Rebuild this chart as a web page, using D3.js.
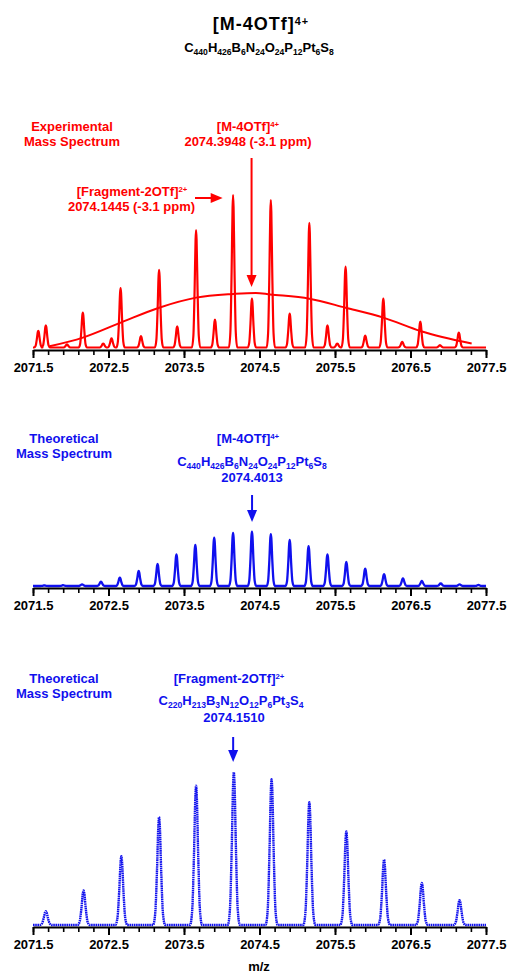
<!DOCTYPE html>
<html>
<head>
<meta charset="utf-8">
<script src="https://cdn.jsdelivr.net/npm/d3@7"></script>
<style>
  body { margin: 0; background: #fff; }
  svg { display: block; font-family: "Liberation Sans", Arial, sans-serif; font-weight: bold; }
</style>
</head>
<body>
<svg id="chart"></svg>
<script>
// ---- data ----
const tickLabels = ["2071.5", "2072.5", "2073.5", "2074.5", "2075.5", "2076.5", "2077.5"];

// experimental spectrum, peak centres (m/z) and relative heights
const expMz  = [2071.57, 2071.67, 2071.95, 2072.16, 2072.43, 2072.54, 2072.66, 2072.93, 2073.17, 2073.41,
                2073.66, 2073.91, 2074.15, 2074.40, 2074.65, 2074.90, 2075.16, 2075.40, 2075.53, 2075.64,
                2075.90, 2076.14, 2076.39, 2076.63, 2076.89, 2077.14];
const expInt = [11, 14.6, 2, 22.9, 2.6, 6, 39, 7.4, 51, 13.9,
                77, 18.3, 100, 32, 96.7, 22.2, 81.7, 14.6, 2.6, 53,
                7.8, 32, 3.7, 17, 1.5, 9.8];

// simulated envelope drawn over the experimental spectrum
const envMz  = [2071.72, 2072.16, 2072.67, 2073.17, 2073.66, 2074.15, 2074.45, 2074.64, 2075.16, 2075.64, 2076.14, 2076.64, 2077.31];
const envInt = [0.8, 6.5, 16.5, 26.1, 32.7, 35.1, 35.8, 34.8, 32, 26.1, 19.6, 10.7, 2.6];

// theoretical [M-4OTf]4+
const m4Mz  = [2071.65, 2071.90, 2072.15, 2072.40, 2072.65, 2072.90, 2073.15, 2073.40, 2073.65, 2073.90,
               2074.15, 2074.40, 2074.65, 2074.90, 2075.15, 2075.40, 2075.65, 2075.90, 2076.15, 2076.40,
               2076.65, 2076.90, 2077.15, 2077.40];
const m4Int = [1, 1.5, 3, 8, 15.3, 27.6, 40.5, 58.3, 75.5, 89,
               98, 100, 95.7, 84.7, 73.6, 58.3, 44.2, 31.9, 22, 14.1,
               9.2, 4.9, 3, 1.8];

// theoretical [Fragment-2OTf]2+
const f2Mz  = [2071.67, 2072.17, 2072.67, 2073.17, 2073.66, 2074.16, 2074.66, 2075.16, 2075.65, 2076.15, 2076.65, 2077.15];
const f2Int = [9.1, 22.6, 45, 70.7, 91.3, 100, 95.4, 80.4, 61.3, 42.8, 27.6, 16.3];

// texts
const titleIon = "[M-4OTf]^4+";
const fragIon = "[Fragment-2OTf]^2+";
const titleFormula = "C440H426B6N24O24P12Pt6S8";
const fragFormula = "C220H213B3N12O12P6Pt3S4";
const expIonMass = "2074.3948 (-3.1 ppm)";
const expFragMass = "2074.1445 (-3.1 ppm)";
const theoIonMass = "2074.4013";
const theoFragMass = "2074.1510";

const width = 510, height = 976;
const red = "#ff0000", blue = "#1010ee";

const svg = d3.select("#chart").attr("width", width).attr("height", height);

const x = d3.scaleLinear().domain([2071.5, 2077.5]).range([33, 486]);

// peak profile used to draw each centroid as a line shape
const profDx = [-1, -0.65, -0.35, -0.12, 0, 0.12, 0.35, 0.65, 1];
const profDy = [0, 0.1, 0.5, 0.92, 1, 0.92, 0.5, 0.1, 0];

function peakPoints(mz, ints, half) {
  const pts = [[x.domain()[0], 0]];
  mz.forEach((m, i) => {
    profDx.forEach((dx, j) => pts.push([m + dx * half, ints[i] * profDy[j]]));
  });
  pts.push([x.domain()[1], 0]);
  return pts;
}

function rich(text, parts, size) {
  let shift = 0;
  parts.forEach(p => {
    const target = p.sup ? -size * 0.3 : p.sub ? size * 0.22 : 0;
    text.append("tspan")
      .attr("dy", target - shift)
      .attr("font-size", p.sup ? size * 0.6 : p.sub ? size * 0.66 : size)
      .text(p.t);
    shift = target;
  });
}
const ionParts = s => { const a = s.split("^"); return a.length > 1 ? [{t: a[0]}, {t: a[1], sup: true}] : [{t: a[0]}]; };
const formulaParts = s => s.match(/[A-Z][a-z]?|\d+/g).map(t => /\d/.test(t) ? {t: t, sub: true} : {t: t});

function label(cx, y, parts, size, color, extra) {
  const t = svg.append("text").attr("x", cx).attr("y", y)
    .attr("text-anchor", "middle").attr("font-size", size).attr("fill", color);
  if (extra) t.attr("letter-spacing", extra);
  rich(t, parts, size);
  return t;
}

function arrowDown(cx, y0, y1, color) {
  svg.append("line").attr("x1", cx).attr("x2", cx).attr("y1", y0).attr("y2", y1 - 10)
    .attr("stroke", color).attr("stroke-width", 2);
  svg.append("path").attr("d", `M${cx - 5},${y1 - 12}L${cx + 5},${y1 - 12}L${cx},${y1}Z`).attr("fill", color);
}
function arrowRight(x0, x1, y, color) {
  svg.append("line").attr("x1", x0).attr("x2", x1 - 10).attr("y1", y).attr("y2", y)
    .attr("stroke", color).attr("stroke-width", 2);
  svg.append("path").attr("d", `M${x1 - 12},${y - 5}L${x1 - 12},${y + 5}L${x1},${y}Z`).attr("fill", color);
}

function axis(y0) {
  const g = svg.append("g").attr("transform", `translate(0,${y0})`);
  g.append("g")
    .call(d3.axisBottom(x).tickValues(d3.range(2071.5, 2077.51, 0.2)).tickSize(5).tickSizeOuter(0).tickFormat(""))
    .call(a => a.select(".domain").remove())
    .selectAll("line").attr("stroke-width", 1.6);
  const major = g.append("g")
    .call(d3.axisBottom(x).tickValues(tickLabels.map(Number)).tickSize(8).tickSizeOuter(0)
      .tickFormat((d, i) => tickLabels[i]));
  major.select(".domain").attr("stroke-width", 2);
  major.selectAll("line").attr("stroke-width", 2);
  major.selectAll("text").attr("font-size", 13).attr("font-family", "Liberation Sans, Arial, sans-serif")
    .attr("font-weight", "bold").attr("fill", "#000").attr("dy", 0).attr("y", 22);
}

function spectrum(pts, yScale, color, w, dash) {
  const line = d3.line().x(d => x(d[0])).y(d => yScale(d[1])).curve(d3.curveMonotoneX);
  const p = svg.append("path").datum(pts).attr("d", line)
    .attr("fill", "none").attr("stroke", color).attr("stroke-width", w).attr("stroke-linejoin", "round");
  if (dash) p.attr("stroke-dasharray", dash);
}

// ---- title ----
label(261, 30, ionParts(titleIon), 18, "#000", 1);
label(259, 52, formulaParts(titleFormula), 13, "#000");

// ---- panel 1: experimental ----
const y1 = d3.scaleLinear().domain([0, 100]).range([347.5, 195]);
spectrum(peakPoints(expMz, expInt, 0.055), y1, red, 2.2);
spectrum(envMz.map((m, i) => [m, envInt[i]]), y1, red, 2);
axis(350);
label(72, 131, [{t: "Experimental"}], 13, red);
label(72, 145.5, [{t: "Mass Spectrum"}], 13, red);
label(248, 131, ionParts(titleIon), 13, red);
label(248, 145.5, [{t: expIonMass}], 13, red);
arrowDown(x(2074.3948), 158, 287, red);
label(132, 196, ionParts(fragIon), 13, red);
label(131.5, 211, [{t: expFragMass}], 13, red);
arrowRight(195, x(2074.1445) - 10, 198, red);

// ---- panel 2: theoretical 4+ ----
const y2 = d3.scaleLinear().domain([0, 100]).range([586, 531.7]);
spectrum(peakPoints(m4Mz, m4Int, 0.055), y2, blue, 2.3);
axis(588);
label(64, 443, [{t: "Theoretical"}], 13, blue);
label(64, 458, [{t: "Mass Spectrum"}], 13, blue);
label(248, 443, ionParts(titleIon), 13, blue);
label(252, 466, formulaParts(titleFormula), 13, blue);
label(252, 482, [{t: theoIonMass}], 13, blue);
arrowDown(x(2074.4013), 495, 522, blue);

// ---- panel 3: theoretical fragment 2+ ----
const y3 = d3.scaleLinear().domain([0, 100]).range([925, 772.3]);
spectrum(peakPoints(f2Mz, f2Int, 0.08), y3, blue, 2.4, "1.6 0.6");
axis(927);
label(64, 683, [{t: "Theoretical"}], 13, blue);
label(64, 698, [{t: "Mass Spectrum"}], 13, blue);
label(229, 683, ionParts(fragIon), 13, blue);
label(231, 705, formulaParts(fragFormula), 13, blue);
label(234, 722, [{t: theoFragMass}], 13, blue);
arrowDown(x(2074.151), 737, 762, blue);

// x axis title
label(259, 971, [{t: "m/z"}], 13, "#000");
</script>
</body>
</html>
